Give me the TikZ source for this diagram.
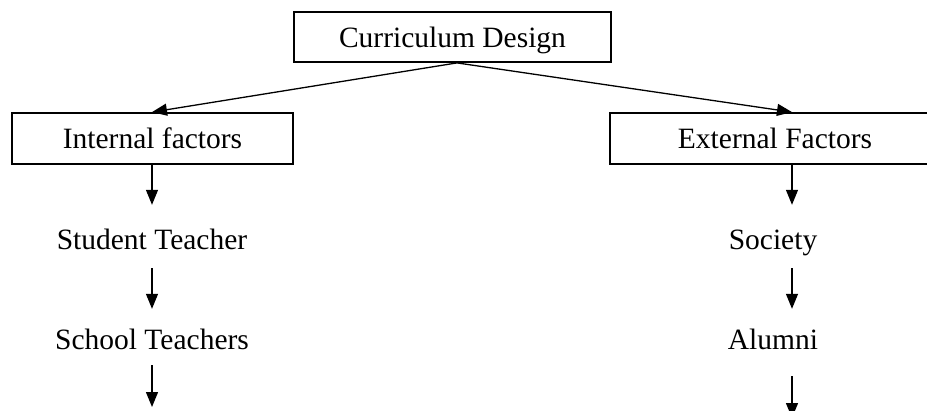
\documentclass[tikz,border=0pt]{standalone}
\usepackage{fontspec}
\setmainfont{Liberation Serif}
\usetikzlibrary{arrows.meta}
\begin{document}
\begin{tikzpicture}[x=1pt,y=-1pt,
  every node/.style={font=\fontsize{29.5}{34}\selectfont},
  factorbox/.style={draw,line width=1.8pt,inner sep=0pt,text height=20pt,text depth=0pt},
  item/.style={inner sep=0pt,anchor=base,text height=20pt,text depth=6pt},
  flow/.style={line width=1.3pt,-{Triangle[length=15pt,width=12pt]}}]
  \useasboundingbox (0,0) rectangle (927,410);
  \clip (0,0) rectangle (927,410);
  \fill[white] (0,0) rectangle (927,410);

  % boxes
  \node[factorbox,minimum width=317pt,minimum height=50pt] (top) at (452.5,37) {Curriculum Design};
  \node[factorbox,minimum width=281pt,minimum height=51pt] (int) at (152.5,138.5) {Internal factors};
  \node[factorbox,minimum width=330pt,minimum height=51pt] (ext) at (775,138.5) {External Factors};

  % column positions
  \coordinate (lc) at (152,0);
  \coordinate (rc) at (792,0);

  % internal column
  \node[item] (st) at (152,249) {Student Teacher};
  \node[item] (sc) at (152,349) {School Teachers};
  \coordinate (lend) at (152,407);

  % external column
  \node[item] (soc) at (773,249) {Society};
  \node[item] (alu) at (773,349) {Alumni};
  \coordinate (rend) at (792,418);

  % branches from the top box
  \draw[flow] ([xshift=4.5pt]top.south) -- (int.north -| lc);
  \draw[flow] ([xshift=4.5pt]top.south) -- (ext.north -| rc);

  % internal chain
  \draw[flow,shorten >=24pt] (int.south -| lc) -- (st.north -| lc);
  \draw[flow,shorten <=13pt,shorten >=20pt] (st.south -| lc) -- (sc.north -| lc);
  \draw[flow,shorten <=10pt] (sc.south -| lc) -- (lend);

  % external chain
  \draw[flow,shorten >=24pt] (ext.south -| rc) -- (soc.north -| rc);
  \draw[flow,shorten <=13pt,shorten >=20pt] (soc.south -| rc) -- (alu.north -| rc);
  \draw[flow,shorten <=21pt] (alu.south -| rc) -- (rend);
\end{tikzpicture}
\end{document}
